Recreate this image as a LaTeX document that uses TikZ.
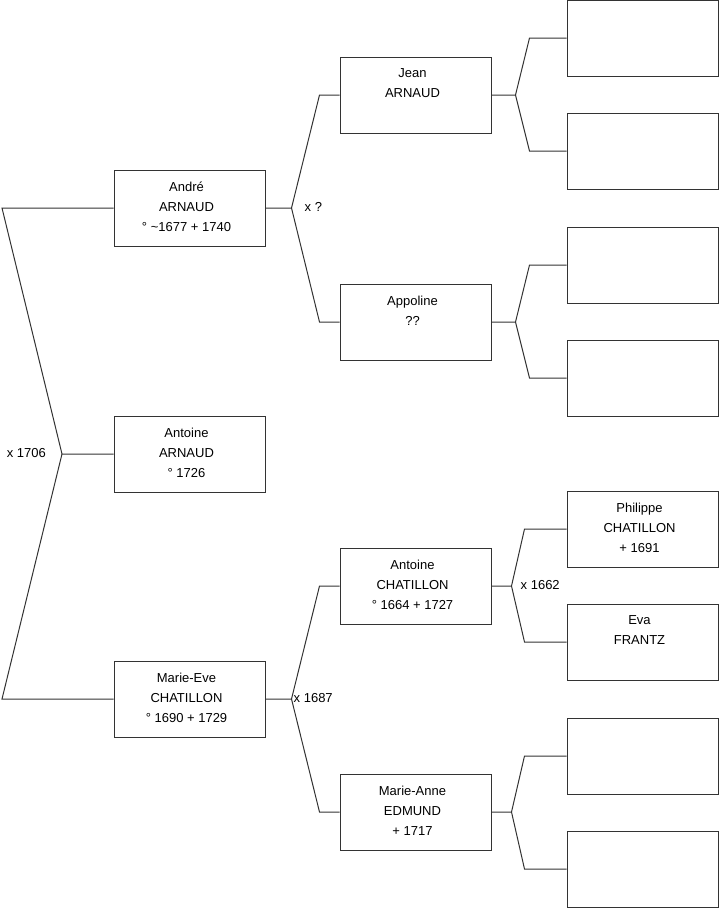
\documentclass[tikz,border=0pt]{standalone}
\usepackage{fontspec}
\setmainfont{Liberation Sans}
\usetikzlibrary{calc}
\tikzset{
    personBox/.style={rectangle, draw=black!80, line width=1pt, fill=white, inner sep=0pt, minimum width=151pt, minimum height=76pt},
    personText/.style={anchor=north, align=center, inner sep=0pt, font=\fontsize{13}{20}\selectfont},
    linkLine/.style={draw=black!80, line width=1pt},
    marLabel/.style={inner sep=0pt, font=\fontsize{13}{16}\selectfont}
}

\begin{document}
\begin{tikzpicture}[x=1pt, y=-1pt]

        \useasboundingbox (0,0) rectangle (719,908);

        % 1. Person boxes, one column per generation
        \node[personBox] (andre)    at (189.5,208) {};
        \node[personBox] (antoineA) at (189.5,454) {};
        \node[personBox] (marieEve) at (189.5,699) {};

        \node[personBox] (jean)     at (415.5,95)  {};
        \node[personBox] (appoline) at (415.5,322) {};
        \node[personBox] (antoineC) at (415.5,586) {};
        \node[personBox] (marieAnne) at (415.5,812) {};

        \node[personBox] (jeanF)    at (642.5,38)  {};
        \node[personBox] (jeanM)    at (642.5,151) {};
        \node[personBox] (appF)     at (642.5,265) {};
        \node[personBox] (appM)     at (642.5,378) {};
        \node[personBox] (philippe) at (642.5,529) {};
        \node[personBox] (eva)      at (642.5,642) {};
        \node[personBox] (anneF)    at (642.5,756) {};
        \node[personBox] (anneM)    at (642.5,869) {};

        % 2. Fork connectors (child -> couple)
        \coordinate (rootFork) at (62,454);
        \draw[linkLine] (antoineA.west) -- (rootFork) -- (2,208) -- (andre.west);
        \draw[linkLine] (rootFork) -- (2,699) -- (marieEve.west);

        \draw[linkLine] (andre.east) -- ++(26,0) coordinate (andreFork) -- ($(jean.west)+(-20,0)$) -- (jean.west);
        \draw[linkLine] (andreFork) -- ($(appoline.west)+(-20,0)$) -- (appoline.west);

        \draw[linkLine] (marieEve.east) -- ++(26,0) coordinate (eveFork) -- ($(antoineC.west)+(-20,0)$) -- (antoineC.west);
        \draw[linkLine] (eveFork) -- ($(marieAnne.west)+(-20,0)$) -- (marieAnne.west);

        \draw[linkLine] (jean.east) -- ++(24,0) coordinate (jeanFork) -- ($(jeanF.west)+(-37,0)$) -- (jeanF.west);
        \draw[linkLine] (jeanFork) -- ($(jeanM.west)+(-37,0)$) -- (jeanM.west);

        \draw[linkLine] (appoline.east) -- ++(24,0) coordinate (appFork) -- ($(appF.west)+(-37,0)$) -- (appF.west);
        \draw[linkLine] (appFork) -- ($(appM.west)+(-37,0)$) -- (appM.west);

        \draw[linkLine] (antoineC.east) -- ++(20,0) coordinate (chatFork) -- ($(philippe.west)+(-42,0)$) -- (philippe.west);
        \draw[linkLine] (chatFork) -- ($(eva.west)+(-42,0)$) -- (eva.west);

        \draw[linkLine] (marieAnne.east) -- ++(20,0) coordinate (anneFork) -- ($(anneF.west)+(-42,0)$) -- (anneF.west);
        \draw[linkLine] (anneFork) -- ($(anneM.west)+(-42,0)$) -- (anneM.west);

        % 3. Names and dates
        \node[personText] at ($(andre.north)+(-3,12)$)    {André\\ARNAUD\\° \textasciitilde1677 + 1740};
        \node[personText] at ($(antoineA.north)+(-3,12)$) {Antoine\\ARNAUD\\° 1726};
        \node[personText] at ($(marieEve.north)+(-3,12)$) {Marie-Eve\\CHATILLON\\° 1690 + 1729};
        \node[personText] at ($(jean.north)+(-3,12)$)     {Jean\\ARNAUD};
        \node[personText] at ($(appoline.north)+(-3,12)$) {Appoline\\??};
        \node[personText] at ($(antoineC.north)+(-3,12)$) {Antoine\\CHATILLON\\° 1664 + 1727};
        \node[personText] at ($(marieAnne.north)+(-3,12)$) {Marie-Anne\\EDMUND\\+ 1717};
        \node[personText] at ($(philippe.north)+(-3,12)$) {Philippe\\CHATILLON\\+ 1691};
        \node[personText] at ($(eva.north)+(-3,12)$)      {Eva\\FRANTZ};

        % 4. Marriage labels
        \node[marLabel, anchor=base east] at ($(rootFork)+(-16,3)$) {x 1706};
        \node[marLabel, anchor=base west] at ($(andreFork)+(13,3)$) {x ?};
        \node[marLabel, anchor=base west] at ($(eveFork)+(2,3)$)    {x 1687};
        \node[marLabel, anchor=base west] at ($(chatFork)+(9,3)$)   {x 1662};

\end{tikzpicture}
\end{document}
